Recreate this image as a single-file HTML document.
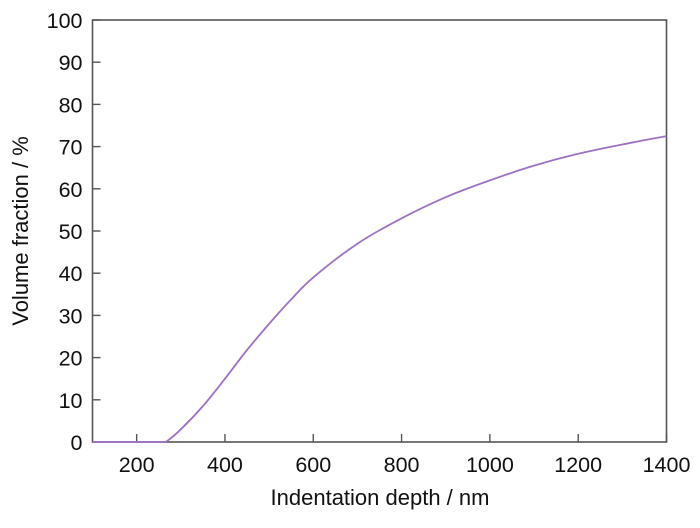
<!DOCTYPE html>
<html><head><meta charset="utf-8"><style>
body{margin:0;background:#fff;font-family:"Liberation Sans",sans-serif}
svg text{font-family:"Liberation Sans",sans-serif;fill:#111}
</style></head><body>
<svg id="chart" width="700" height="523" xmlns="http://www.w3.org/2000/svg">
<g id="axes"></g>
<text x="380" y="505" font-size="22" text-anchor="middle">Indentation depth / nm</text>
<text transform="translate(28,231) rotate(-90)" font-size="22" text-anchor="middle">Volume fraction / %</text>
</svg>
<script>
const xTicks=[200,400,600,800,1000,1200,1400];
const yTicks=[0,10,20,30,40,50,60,70,80,90,100];
const depth=[100,200,260,270,300,350,400,450,500,550,600,700,800,900,1000,1100,1200,1300,1400];
const fraction=[0,0,0,0.3,3,8.5,15,21.8,28,33.8,39,47,53,58,62,65.5,68.3,70.5,72.5];
const L=92.5,R=666.5,T=20,B=442;
const x=v=>L+(v-100)/1300*(R-L);
const y=v=>B-v/100*(B-T);
const ns="http://www.w3.org/2000/svg";
const g=document.getElementById('axes');
function mk(t,a){const e=document.createElementNS(ns,t);for(const k in a)e.setAttribute(k,a[k]);g.appendChild(e);return e;}
const frame=mk('rect',{x:L,y:T,width:R-L,height:B-T,fill:'none',stroke:'#555','stroke-width':1.6});


xTicks.forEach(v=>{
 const t=mk('line',{x1:x(v),x2:x(v),y1:B,y2:B-8,stroke:'#555','stroke-width':1.4});
 
 
 const l=mk('text',{x:x(v),y:B+30,'font-size':21.5,'text-anchor':'middle'});l.textContent=v;
 
 
});
yTicks.forEach(v=>{
 const t=mk('line',{x1:L,x2:L+8,y1:y(v),y2:y(v),stroke:'#555','stroke-width':1.4});
 
 
 const l=mk('text',{x:L-10,y:y(v)+8,'font-size':21.5,'text-anchor':'end'});l.textContent=v;
 
 
});
const P=depth.map((v,i)=>[x(v),y(fraction[i])]);
let d='M'+P[0][0].toFixed(1)+','+P[0][1].toFixed(1);
for(let i=0;i<P.length-1;i++){
 const p0=P[Math.max(0,i-1)],p1=P[i],p2=P[i+1],p3=P[Math.min(P.length-1,i+2)];
 let c1y=p1[1]+(p2[1]-p0[1])/6,c2y=p2[1]-(p3[1]-p1[1])/6;
 if(fraction[i]===0&&fraction[i+1]===0){c1y=p1[1];c2y=p2[1];}
 if(fraction[i]===0)c1y=p1[1];
 d+='C'+(p1[0]+(p2[0]-p0[0])/6).toFixed(1)+','+Math.min(c1y,B).toFixed(1)+' '+(p2[0]-(p3[0]-p1[0])/6).toFixed(1)+','+Math.min(c2y,B).toFixed(1)+' '+p2[0].toFixed(1)+','+p2[1].toFixed(1);
}
const p=mk('path',{d:d,fill:'none',stroke:'#9d72c4','stroke-width':1.8,'stroke-linejoin':'round'});


</script>
</body></html>
